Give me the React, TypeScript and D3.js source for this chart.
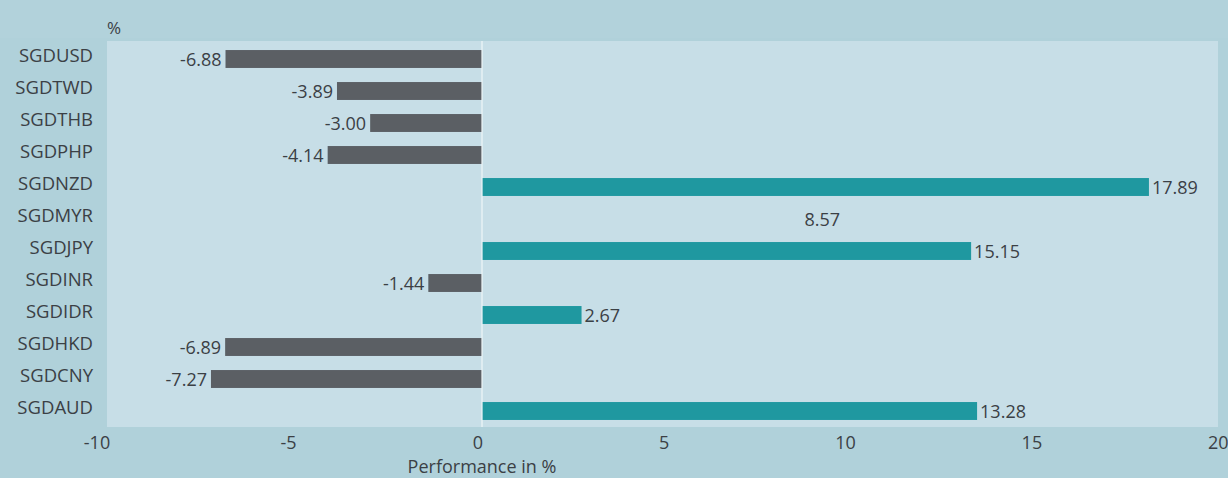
import React from "react";
import * as d3 from "d3";

const categories = ["SGDUSD","SGDTWD","SGDTHB","SGDPHP","SGDNZD","SGDMYR","SGDJPY","SGDINR","SGDIDR","SGDHKD","SGDCNY","SGDAUD"];
// printed data labels
const labelValues = [-6.88,-3.89,-3.00,-4.14,17.89,8.57,15.15,-1.44,2.67,-6.89,-7.27,13.28];
// bar lengths as drawn in the picture
const barValues = [-6.88,-3.89,-3.00,-4.14,17.89,8.57,13.12,-1.44,2.67,-6.89,-7.27,13.28];
// bars that are not visible in the picture
const hiddenBars = ["SGDMYR"];
const xTicks = [-10,-5,0,5,10,15,20];

const W = 1228, H = 478;
const OUTER = "#b0d1da";
const PLOT = "#c7dee7";
const GRAY = "#5b5f64";
const TEAL = "#1f98a0";
const TEXT = "#3b4045";
const FONT = "'Open Sans', 'Noto Sans', sans-serif";

export default function App() {
  const x = d3.scaleLinear().domain([-10, 20]).range([109.2, 1227.6]);
  const y = d3.scaleBand<string>().domain(categories).range([43, 427]).paddingInner(0.44).paddingOuter(0.22);
  const bw = y.bandwidth();
  return (
    <svg width={W} height={H} style={{ position: "absolute", left: 0, top: 0 }} fontFamily={FONT}>
      <rect x={0} y={0} width={W} height={H} fill={OUTER} />
      <rect x={0} y={0} width={W} height={38} fill="#b2d2db" />
      <rect x={107} y={41} width={1218 - 107} height={386} fill={PLOT} />
      <text x={107} y={34} fontSize={17} fill={TEXT}>%</text>
      {categories.map((c, i) => {
        const v = barValues[i];
        const yc = (y(c) as number) + bw / 2;
        const x0 = x(Math.min(0, v));
        const w = Math.abs(x(v) - x(0));
        const hidden = hiddenBars.includes(c);
        return (
          <g key={c}>
            <text x={93} y={yc + 2.5} textAnchor="end" fontSize={18.5} fill={TEXT}>{c}</text>
            {!hidden && (
              <rect x={x0} y={y(c)} width={w} height={bw} fill={v < 0 ? GRAY : TEAL} />
            )}
            <text
              x={v < 0 ? x(v) - 4 : x(v) + 3}
              y={yc + 6.5}
              textAnchor={v < 0 ? "end" : "start"}
              fontSize={18}
              fill={TEXT}
            >
              {labelValues[i].toFixed(2)}
            </text>
          </g>
        );
      })}
      <line x1={x(0)} x2={x(0)} y1={41} y2={427} stroke="#eef6f9" strokeWidth={1.2} />
      {xTicks.map((t) => (
        <text key={t} x={x(t) + 1} y={449} textAnchor="end" fontSize={18} fill={TEXT}>{t}</text>
      ))}
      <text x={x(0)} y={473} textAnchor="middle" fontSize={18} fill={TEXT}>Performance in %</text>
    </svg>
  );
}
